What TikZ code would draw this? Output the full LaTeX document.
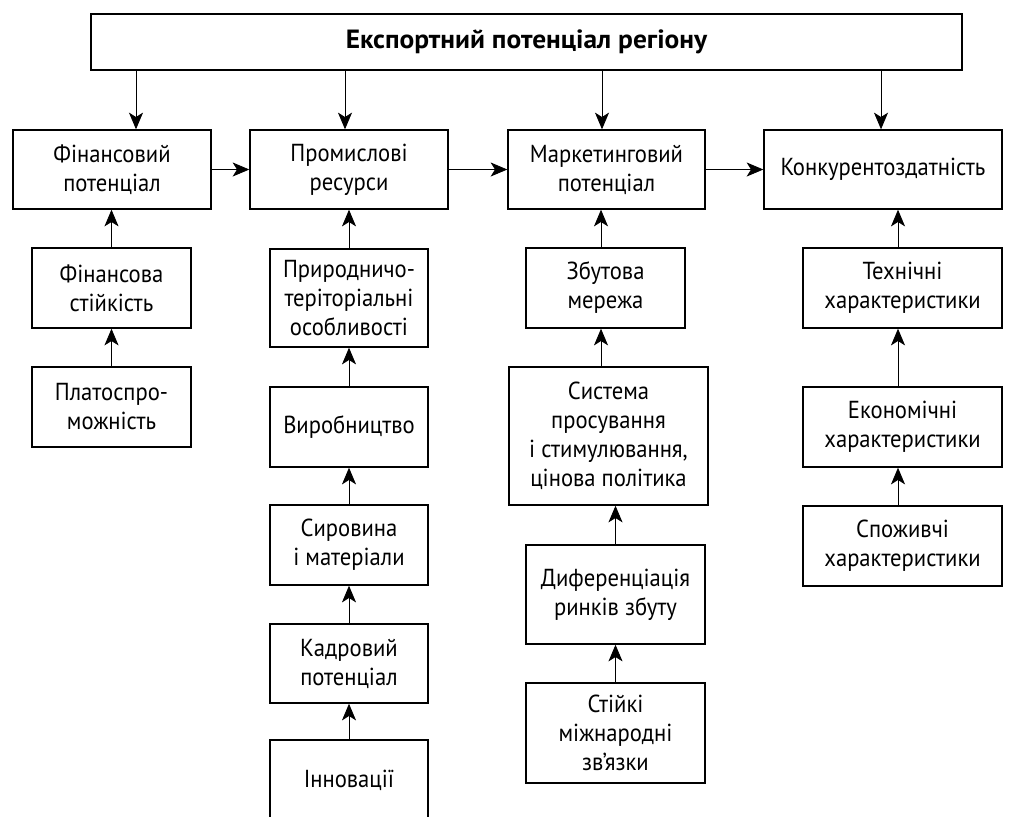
\documentclass[tikz,border=0pt]{standalone}
\usepackage{fontspec}
\setmainfont{PT Sans}[FakeStretch=0.92]
\newfontfamily\headfont{PT Sans}[FakeStretch=1.04]
\usepackage{tikz}
\usetikzlibrary{positioning,arrows.meta,calc}

\tikzset{
  blk/.style={draw, line width=0.8pt, align=center, inner sep=1pt,
    font=\fontsize{14}{16.5}\selectfont},
  arr/.style={-{Stealth[length=9.5pt,width=8pt,inset=2.5pt]}, line width=0.5pt}
}

\begin{document}
\begin{tikzpicture}[x=0.02cm,y=-0.02cm]
\useasboundingbox (0,0) rectangle (1010,816);

% Top
\node[blk, minimum width=17.42cm, minimum height=1.12cm, font=\headfont\fontsize{15}{16}\selectfont\bfseries] (top) at (526.5,42) {Експортний потенціал регіону};

% Row 1
\node[blk, minimum width=3.96cm, minimum height=1.58cm] (fin) at (112,169.5) {Фінансовий\\потенціал};
\node[blk, minimum width=3.96cm, minimum height=1.58cm] (prom) at (349,169.5) {Промислові\\ресурси};
\node[blk, minimum width=3.94cm, minimum height=1.58cm] (mark) at (606.5,169.5) {Маркетинговий\\потенціал};
\node[blk, minimum width=4.76cm, minimum height=1.58cm] (konk) at (883,169.5) {Конкурентоздатність};

% Column 1
\node[blk, minimum width=3.18cm, minimum height=1.6cm] (finst) at (111.5,288) {Фінансова\\стійкість};
\node[blk, minimum width=3.18cm, minimum height=1.6cm] (plat) at (111.5,407) {Платоспро-\\можність};

% Column 2
\node[blk, minimum width=3.16cm, minimum height=1.96cm] (pryr) at (349,298) {Природничо-\\теріторіальні\\особливості};
\node[blk, minimum width=3.16cm, minimum height=1.6cm] (vyr) at (349,427) {Виробництво};
\node[blk, minimum width=3.16cm, minimum height=1.6cm] (syr) at (349,545) {Сировина\\і матеріали};
\node[blk, minimum width=3.16cm, minimum height=1.58cm] (kadr) at (349,663.5) {Кадровий\\потенціал};
\node[blk, minimum width=3.16cm, minimum height=1.6cm] (inn) at (349,780) {Інновації};

% Column 3
\node[blk, minimum width=3.18cm, minimum height=1.6cm] (zbut) at (605.5,288) {Збутова\\мережа};
\node[blk, minimum width=3.98cm, minimum height=2.76cm] (syst) at (608.5,436) {Система\\просування\\і стимулювання,\\цінова політика};
\node[blk, minimum width=3.58cm, minimum height=1.98cm] (dyf) at (615.5,594.5) {Диференціація\\ринків збуту};
\node[blk, minimum width=3.58cm, minimum height=2.0cm] (stiik) at (615.5,733) {Стійкі\\міжнародні\\зв’язки};

% Column 4
\node[blk, minimum width=3.98cm, minimum height=1.6cm] (tekh) at (902.5,288) {Технічні\\характеристики};
\node[blk, minimum width=3.98cm, minimum height=1.6cm] (ekon) at (902.5,427) {Економічні\\характеристики};
\node[blk, minimum width=3.98cm, minimum height=1.6cm] (spoz) at (902.5,546) {Споживчі\\характеристики};

% Arrows from top
\draw[arr] ([xshift=0.48cm]fin.north |- top.south) -- ([xshift=0.48cm]fin.north);
\draw[arr] ([xshift=-0.08cm]prom.north |- top.south) -- ([xshift=-0.08cm]prom.north);
\draw[arr] ([xshift=-0.09cm]mark.north |- top.south) -- ([xshift=-0.09cm]mark.north);
\draw[arr] ([xshift=-0.04cm]konk.north |- top.south) -- ([xshift=-0.04cm]konk.north);

% Row arrows
\draw[arr] (fin.east) -- (prom.west);
\draw[arr] (prom.east) -- (mark.west);
\draw[arr] (mark.east) -- (konk.west);

% Column arrows
\draw[arr] (finst.north) -- (finst.north |- fin.south);
\draw[arr] (plat.north) -- (plat.north |- finst.south);

\draw[arr] (pryr.north) -- (pryr.north |- prom.south);
\draw[arr] (vyr.north) -- (vyr.north |- pryr.south);
\draw[arr] (syr.north) -- (syr.north |- vyr.south);
\draw[arr] (kadr.north) -- (kadr.north |- syr.south);
\draw[arr] (inn.north) -- (inn.north |- kadr.south);

\draw[arr] ([xshift=-0.09cm]zbut.north) -- ([xshift=-0.09cm]zbut.north |- mark.south);
\draw[arr] ([xshift=-0.09cm]zbut.south |- syst.north) -- ([xshift=-0.09cm]zbut.south);
\draw[arr] (dyf.north) -- (dyf.north |- syst.south);
\draw[arr] (stiik.north) -- (stiik.north |- dyf.south);

\draw[arr] ([xshift=-0.09cm]tekh.north) -- ([xshift=-0.09cm]tekh.north |- konk.south);
\draw[arr] ([xshift=-0.09cm]ekon.north) -- ([xshift=-0.09cm]ekon.north |- tekh.south);
\draw[arr] ([xshift=-0.09cm]spoz.north) -- ([xshift=-0.09cm]spoz.north |- ekon.south);
\end{tikzpicture}
\end{document}
